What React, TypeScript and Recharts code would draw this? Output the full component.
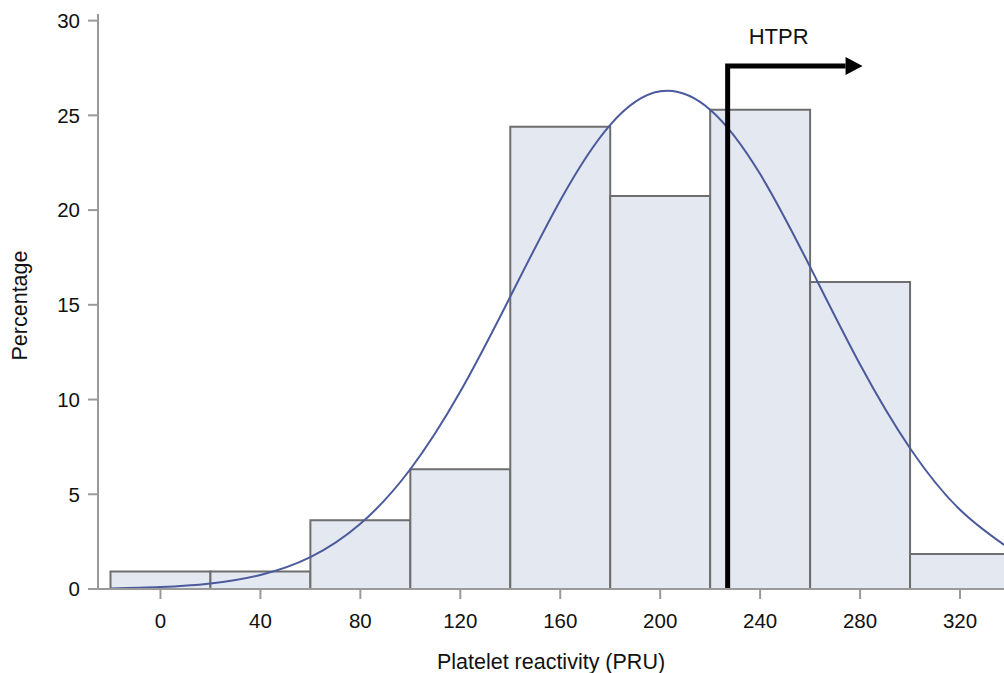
import React from 'react';
import {
  ComposedChart,
  Line,
  XAxis,
  YAxis,
  ReferenceArea,
  ReferenceLine,
} from 'recharts';

// histogram bins (PRU) and their percentages
const binStarts = [-20, 20, 60, 100, 140, 180, 220, 260, 300];
const binEnds = [20, 60, 100, 140, 180, 220, 260, 300, 340];
const binPercent = [0.92, 0.92, 3.63, 6.32, 24.4, 20.75, 25.3, 16.2, 1.85];

// fitted normal curve
const curvePru = [-20, 0, 20, 40, 60, 80, 100, 120, 140, 160, 180, 200, 220, 240, 260, 280, 300, 320, 340];
const curvePercent = [0.03, 0.1, 0.29, 0.74, 1.68, 3.44, 6.32, 10.42, 15.43, 20.51, 24.5, 26.27, 25.3, 21.9, 17.0, 11.85, 7.43, 4.18, 2.11];

const xTicks = [0, 40, 80, 120, 160, 200, 240, 280, 320];
const yTicks = [0, 5, 10, 15, 20, 25, 30];

// HTPR cut-off marker
const htprPru = 227;
const htprTop = 27.6;
const htprArrowTip = 281;

const curveData = curvePru.map((x, i) => ({ x, pct: curvePercent[i] }));

const axisGray = '#9a9a9a';
const font = '"Liberation Sans", Arial, sans-serif';

const HtprArrow = (props: any) => {
  const { x1, y1, x2, y2 } = props;
  const head = 17;
  return (
    <g>
      <path
        d={`M${x1},${y1} V${y2} H${x2 - head}`}
        fill="none"
        stroke="#000"
        strokeWidth={5}
        strokeLinejoin="miter"
      />
      <polygon points={`${x2 - head},${y2 - 9} ${x2},${y2} ${x2 - head},${y2 + 9}`} fill="#000" />
      <text x={x1 + 51} y={y2 - 22} textAnchor="middle" fontSize={22} fill="#111" fontFamily={font}>
        HTPR
      </text>
    </g>
  );
};

const App: React.FC = () => {
  return (
    <div
      style={{
        position: 'absolute',
        left: 0,
        top: 0,
        width: 1004,
        height: 673,
        overflow: 'hidden',
        background: '#fff',
      }}
    >
      <ComposedChart
        width={1015}
        height={673}
        data={curveData}
        margin={{ top: 14, right: 5, bottom: 0, left: 0 }}
        style={{ fontFamily: font }}
      >
        <XAxis
          dataKey="x"
          type="number"
          domain={[-25, 340]}
          ticks={xTicks}
          allowDataOverflow
          height={84}
          tickSize={10}
          tickMargin={14}
          axisLine={{ stroke: axisGray, strokeWidth: 2 }}
          tickLine={{ stroke: axisGray, strokeWidth: 2 }}
          tick={{ fill: '#111', fontSize: 20.5 }}
          label={{
            content: (p: any) => {
              const vb = p.viewBox || {};
              return (
                <text
                  x={vb.x + vb.width / 2 - 3}
                  y={662}
                  textAnchor="middle"
                  dominantBaseline="central"
                  fontSize={21.5}
                  fill="#111"
                  fontFamily={font}
                >
                  Platelet reactivity (PRU)
                </text>
              );
            },
          }}
        />
        <YAxis
          type="number"
          domain={[0, 30.35]}
          ticks={yTicks}
          allowDataOverflow
          width={98}
          tickSize={10}
          tickMargin={8}
          axisLine={{ stroke: axisGray, strokeWidth: 2 }}
          tickLine={{ stroke: axisGray, strokeWidth: 2 }}
          tick={{ fill: '#111', fontSize: 20.5 }}
          label={{
            content: (p: any) => {
              const vb = p.viewBox || {};
              const cx = 20;
              const cy = vb.y + vb.height / 2 + 4;
              return (
                <text
                  x={cx}
                  y={cy}
                  transform={`rotate(-90, ${cx}, ${cy})`}
                  textAnchor="middle"
                  dominantBaseline="central"
                  fontSize={21.5}
                  fill="#111"
                  fontFamily={font}
                >
                  Percentage
                </text>
              );
            },
          }}
        />
        {binStarts.map((s, i) => (
          <ReferenceArea
            key={`bin-${i}`}
            x1={s}
            x2={binEnds[i]}
            y1={0}
            y2={binPercent[i]}
            fill="#e4e8f0"
            fillOpacity={1}
            stroke="#6e6e6e"
            strokeWidth={2}
          />
        ))}
        <Line
          type="natural"
          dataKey="pct"
          stroke="#4b5a9c"
          strokeWidth={2}
          dot={false}
          activeDot={false}
          isAnimationActive={false}
        />
        <ReferenceLine
          segment={[
            { x: htprPru, y: 0 },
            { x: htprArrowTip, y: htprTop },
          ]}
          shape={HtprArrow}
        />
      </ComposedChart>
    </div>
  );
};

export default App;
